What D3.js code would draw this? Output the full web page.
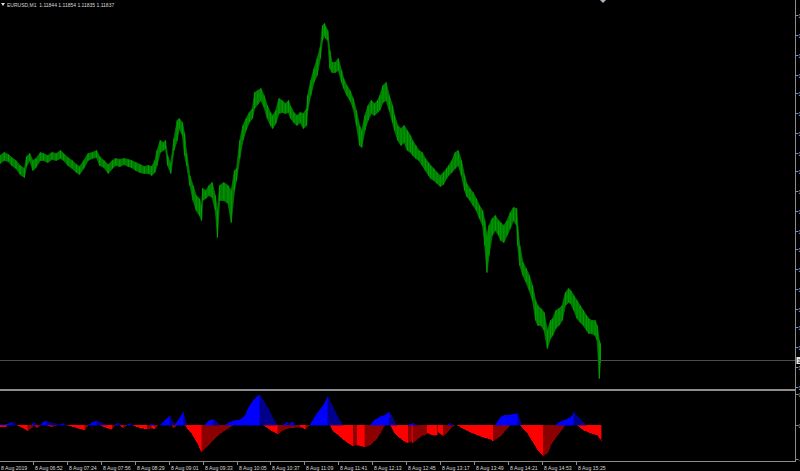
<!DOCTYPE html>
<html><head><meta charset="utf-8">
<script src="https://cdn.jsdelivr.net/npm/d3@7"></script>
<style>html,body{margin:0;padding:0;background:#000;overflow:hidden}svg{display:block}</style>
</head><body><svg id="c" width="800" height="471"></svg>
<script>
// ---------- DATA ----------
const symbolLabel = "EURUSD,M1";
const headerOHLC = ["1.11844", "1.11854", "1.11835", "1.11837"];
const bidPrice = 1.11837;

// bar offsets (minutes after 06:21, 8 Aug 2019)
const barTimes = [0,4,8,11,15,19,23,25,28,31,34,38,41,45,49,53,57,60,64,68,72,75,79,83,87,91,94,98,102,106,109,113,117,121,124,128,132,136,140,143,146,148,151,154,156,158,161,164,167,169,172,174,176,179,182,185,188,190,191,194,197,200,203,205,207,211,215,218,221,223,226,229,232,235,238,240,243,246,249,252,255,257,260,263,266,269,272,274,277,280,283,286,289,290,293,296,299,302,304,306,307,309,311,313,316,319,322,324,327,330,333,336,339,341,344,347,350,353,356,358,361,364,367,370,372,375,378,381,384,387,389,392,395,398,401,404,406,409,412,415,418,421,423,426,429,432,435,438,440,443,446,449,452,455,457,459,461,464,467,470,472,475,478,481,484,487,488,490,493,496,499,502,505,507,510,513,516,519,521,524,527,530,533,536,538,541,544,547,550,553,555,558,561,563,565,566];
const highs = [1.12042,1.12045,1.12043,1.12040,1.12037,1.12032,1.12029,1.12041,1.12044,1.12037,
1.12039,1.12045,1.12044,1.12042,1.12045,1.12044,1.12047,1.12044,1.12040,1.12037,
1.12033,1.12031,1.12037,1.12044,1.12045,1.12047,1.12041,1.12037,1.12033,1.12037,
1.12039,1.12038,1.12039,1.12038,1.12037,1.12035,1.12033,1.12031,1.12032,1.12031,
1.12037,1.12047,1.12057,1.12055,1.12057,1.12042,1.12034,1.12059,1.12077,1.12079,
1.12075,1.12064,1.12044,1.12022,1.12012,1.12002,1.11999,1.11992,1.12009,1.12007,
1.12012,1.12015,1.12002,1.11987,1.12012,1.12015,1.12012,1.12007,1.12027,1.12029,
1.12057,1.12072,1.12079,1.12085,1.12089,1.12105,1.12107,1.12109,1.12102,1.12092,
1.12085,1.12082,1.12087,1.12099,1.12097,1.12094,1.12097,1.12091,1.12085,1.12082,
1.12085,1.12084,1.12089,1.12102,1.12117,1.12129,1.12139,1.12151,1.12172,1.12174,
1.12171,1.12167,1.12147,1.12135,1.12135,1.12139,1.12127,1.12119,1.12112,1.12107,
1.12099,1.12087,1.12072,1.12067,1.12082,1.12092,1.12097,1.12094,1.12097,1.12102,
1.12112,1.12115,1.12102,1.12092,1.12082,1.12072,1.12069,1.12072,1.12067,1.12062,
1.12057,1.12052,1.12047,1.12045,1.12039,1.12035,1.12032,1.12029,1.12025,1.12022,
1.12025,1.12029,1.12032,1.12037,1.12045,1.12047,1.12037,1.12022,1.12014,1.12009,
1.12005,1.11999,1.11992,1.11987,1.11977,1.11962,1.11972,1.11979,1.11982,1.11977,
1.11975,1.11972,1.11977,1.11985,1.11990,1.11989,1.11972,1.11952,1.11935,1.11929,
1.11922,1.11912,1.11897,1.11892,1.11889,1.11885,1.11867,1.11877,1.11879,1.11887,
1.11889,1.11892,1.11905,1.11909,1.11907,1.11902,1.11897,1.11892,1.11887,1.11882,
1.11879,1.11877,1.11877,1.11872,1.11857,1.11854];
const lows = [1.12034,1.12037,1.12036,1.12032,1.12029,1.12023,1.12020,1.12031,1.12037,1.12027,
1.12030,1.12037,1.12037,1.12035,1.12038,1.12037,1.12039,1.12037,1.12032,1.12029,
1.12025,1.12023,1.12029,1.12037,1.12039,1.12040,1.12032,1.12030,1.12024,1.12029,
1.12032,1.12031,1.12033,1.12031,1.12030,1.12027,1.12025,1.12024,1.12024,1.12022,
1.12025,1.12032,1.12045,1.12047,1.12049,1.12032,1.12024,1.12047,1.12057,1.12069,
1.12062,1.12042,1.12032,1.12012,1.11997,1.11987,1.11982,1.11977,1.11997,1.11999,
1.12002,1.12000,1.11987,1.11960,1.11997,1.11997,1.11994,1.11975,1.12007,1.12017,
1.12039,1.12057,1.12067,1.12075,1.12079,1.12089,1.12093,1.12097,1.12090,1.12079,
1.12072,1.12069,1.12074,1.12084,1.12085,1.12084,1.12085,1.12079,1.12075,1.12072,
1.12075,1.12069,1.12072,1.12087,1.12102,1.12115,1.12122,1.12139,1.12157,1.12162,
1.12159,1.12157,1.12129,1.12125,1.12125,1.12127,1.12115,1.12109,1.12102,1.12097,
1.12089,1.12072,1.12052,1.12050,1.12067,1.12077,1.12084,1.12082,1.12085,1.12087,
1.12095,1.12097,1.12087,1.12075,1.12067,1.12057,1.12052,1.12055,1.12047,1.12045,
1.12042,1.12039,1.12037,1.12032,1.12027,1.12022,1.12019,1.12017,1.12014,1.12011,
1.12013,1.12019,1.12022,1.12025,1.12029,1.12032,1.12022,1.12007,1.12001,1.11997,
1.11992,1.11987,1.11979,1.11972,1.11952,1.11925,1.11942,1.11962,1.11967,1.11962,
1.11957,1.11955,1.11962,1.11969,1.11977,1.11972,1.11952,1.11932,1.11922,1.11915,
1.11907,1.11897,1.11877,1.11872,1.11872,1.11867,1.11849,1.11859,1.11862,1.11869,
1.11872,1.11877,1.11892,1.11895,1.11894,1.11887,1.11879,1.11875,1.11872,1.11867,
1.11864,1.11864,1.11862,1.11857,1.11819,1.11835];

const priceTicks = [1.12182,1.12162,1.12143,1.12123,1.12104,1.12084,1.12065,1.12045,1.12026,1.12006,1.11987,1.11967,1.11948,1.11928,1.11909,1.11889,1.11870,1.11850,1.11831,1.11811];

const timeTickBars = [-1,31,63,95,127,159,191,223,255,287,319,351,383,415,447,479,511,543];
const timeTickLabels = ["8 Aug 2019","8 Aug 06:52","8 Aug 07:24","8 Aug 07:56","8 Aug 08:29","8 Aug 09:01","8 Aug 09:33","8 Aug 10:05","8 Aug 10:37","8 Aug 11:09","8 Aug 11:41","8 Aug 12:13","8 Aug 12:45","8 Aug 13:17","8 Aug 13:49","8 Aug 14:21","8 Aug 14:53","8 Aug 15:25"];

// indicator (units of 0.00001)
const bullBars = [0,5,8,11,14,16,30,32,35,38,41,44,49,54,57,58,60,63,83,87,91,96,101,108,111,115,120,123,125,141,143,146,151,156,160,165,168,173,176,193,197,201,205,207,212,217,223,226,231,234,239,242,245,250,255,261,267,271,273,276,279,292,299,305,309,314,318,323,349,354,358,363,367,371,374,385,389,394,422,424,427,467,472,476,481,488,492,523,530,535,539,541,547,552,567];
const bullPts = [0,0.5,1,2.7,2,0,0,3,0,0,3,4,2,1,0,1,2,0,0,2.5,4.3,2,0,0,2,0,0,2,0,0,1.5,0,0,5,9,0,5,12.7,0,0,4,5.7,3,0,0,3,5,5,9,17,25,28,30,22,12,0,0,3.3,1,3.3,0,0,11.7,20,29,18,9,0,0,6,8,10,13.3,6,0,0,2,0,0,2,0,0,8,10,10,11.7,0,0,4,6,9,12.7,6,0,0];
const bearBars = [0,6,8,16,22,26,31,33,34,35,38,44,49,54,63,73,80,83,94,101,106,108,113,116,120,125,132,139,143,146,149,162,164,167,174,181,186,190,195,201,207,214,220,248,255,262,267,273,283,288,290,292,311,314,319,323,328,333,337,339,344,349,356,360,363,368,372,377,382,385,388,389,393,398,401,403,408,412,413,418,422,426,429,431,437,443,450,455,462,465,472,476,481,490,497,503,507,512,516,521,528,533,544,550,556,563,567];
const bearPts = [-1.7,-1.7,0,0,-3,-5.7,-2,0,-2,-3,0,0,-2,0,0,-3,-5,0,0,-3,-4.3,0,0,-3,0,0,-3,-4,-3,-4,0,0,-3,0,0,-9,-18,-26.7,-22,-15,-9,-4,0,0,-5,-9,-5,-3,-2,-4,-2,0,0,-6,-10,-14,-18,-21,-20,-20.5,-22,-20,-13,-5,0,0,-8,-13,-17,-18,-16,-18,-15,-10,-10,-8,-10,-10,-7,-11,-7,-2,0,0,-4,-7,-10,-12,-14,-16,-11,-6,0,0,-8,-18,-25,-31,-28,-17,-7,0,0,-5,-8,-10,-15.7];
const indTicks = [31, 0, -34];
const indTickLabels = ["0.00031", "0.00000", "-0.00034"];

// ---------- DRAW ----------
const svg = d3.select("#c");
svg.append("rect").attr("width", 800).attr("height", 471).attr("fill", "#000");

const axisX = 795.5;
const x = d3.scaleLinear().domain([0, 543]).range([0, 576]);
const y = d3.scaleLinear().domain([1.118085, 1.121975]).range([389, 0]);
const yi = d3.scaleLinear().domain([-37, 34]).range([462, 391]);

const font = "'Liberation Sans', Arial, sans-serif";
const txtCol = "#d8d8d8";
const gridCol = "#8c8c8c";

// price band (high-low range of the M1 bars)
const bars = barTimes.map((t, i) => ({t, h: highs[i], l: lows[i]}));
const main = svg.append("g");
main.append("path").datum(bars)
  .attr("d", d3.area().x(d => x(d.t)).y0(d => y(d.l)).y1(d => y(d.h)))
  .attr("fill", "#007a00").attr("stroke", "#008400").attr("stroke-width", 0.7);
main.append("g").selectAll("line").data(bars).join("line")
  .attr("x1", d => x(d.t)).attr("x2", d => x(d.t))
  .attr("y1", d => y(d.h)).attr("y2", d => y(d.l))
  .attr("stroke", "#00a000").attr("stroke-width", 1.1);

// bid line
main.append("line").attr("x1", 0).attr("x2", axisX).attr("y1", Math.round(y(bidPrice)) + 0.5).attr("y2", Math.round(y(bidPrice)) + 0.5)
  .attr("stroke", "#4a4a4a").attr("stroke-width", 1);

// indicator
function drawSeries(times, vals, bright, dark) {
  const g = svg.append("g").attr("shape-rendering", "crispEdges");
  let col = bright;
  for (let i = 1; i < vals.length; i++) {
    const a = Math.abs(vals[i - 1]), b = Math.abs(vals[i]);
    if (b > a) col = bright; else if (b < a) col = dark;
    if (a === 0 && b === 0) continue;
    const seg = [{t: times[i - 1], v: vals[i - 1]}, {t: times[i], v: vals[i]}];
    g.append("path").datum(seg)
      .attr("d", d3.area().x(d => x(d.t)).y0(yi(0)).y1(d => yi(d.v)))
      .attr("fill", col).attr("stroke", col).attr("stroke-width", 0.4);
  }
}
drawSeries(bearBars, bearPts, "#ff0000", "#8b0000");
drawSeries(bullBars, bullPts, "#0000ff", "#00008b");

// pane borders
svg.append("rect").attr("x", 0).attr("y", 389).attr("width", axisX + 0.5).attr("height", 2).attr("fill", gridCol);
svg.append("line").attr("x1", 0).attr("x2", axisX).attr("y1", 461.5).attr("y2", 461.5).attr("stroke", gridCol);
svg.append("line").attr("x1", axisX).attr("x2", axisX).attr("y1", 0).attr("y2", 462).attr("stroke", gridCol);

// right price axis (labels run past the window edge, as in the reference)
const ra = svg.append("g");
priceTicks.forEach(p => {
  const yy = Math.round(y(p)) + 0.5;
  ra.append("line").attr("x1", axisX).attr("x2", axisX + 3).attr("y1", yy).attr("y2", yy).attr("stroke", gridCol);
  ra.append("text").attr("x", 798.5).attr("y", yy + 2).attr("fill", txtCol)
    .attr("font-family", font).attr("font-size", 5.5).text(p.toFixed(5));
});
indTicks.forEach((v, i) => {
  const yy = Math.round(yi(v)) + 0.5;
  ra.append("line").attr("x1", axisX).attr("x2", axisX + 3).attr("y1", yy).attr("y2", yy).attr("stroke", gridCol);
  ra.append("text").attr("x", 798.5).attr("y", yy + 2).attr("fill", "#c8b080")
    .attr("font-family", font).attr("font-size", 5.5).text(indTickLabels[i]);
});
// bid label
const by = Math.round(y(bidPrice));
ra.append("rect").attr("x", axisX + 1).attr("y", by - 3).attr("width", 6).attr("height", 7).attr("fill", "#e8e8e8");
ra.append("text").attr("x", 797.5).attr("y", by + 2.5).attr("fill", "#000")
  .attr("font-family", font).attr("font-size", 5.5).text(bidPrice.toFixed(5));

// time axis
const ta = svg.append("g");
timeTickBars.forEach((b, i) => {
  const xx = Math.round(x(b)) + 0.5;
  ta.append("line").attr("x1", xx).attr("x2", xx).attr("y1", 462).attr("y2", 465).attr("stroke", gridCol);
  ta.append("text").attr("x", xx + 1.5).attr("y", 469.5).attr("fill", txtCol)
    .attr("font-family", font).attr("font-size", 5.2).text(timeTickLabels[i]);
});

// header
svg.append("path").attr("d", "M1,3 L5,3 L3,6 Z").attr("fill", "#e0e0e0");
svg.append("text").attr("x", 7).attr("y", 7).attr("fill", txtCol)
  .attr("font-family", font).attr("font-size", 5).attr("xml:space", "preserve")
  .text(symbolLabel + "  " + headerOHLC.join(" "));

// shift marker
svg.append("path").attr("d", "M600,0 L606,0 L603,3 Z").attr("fill", "#a8b4c4");
</script>
</body></html>
